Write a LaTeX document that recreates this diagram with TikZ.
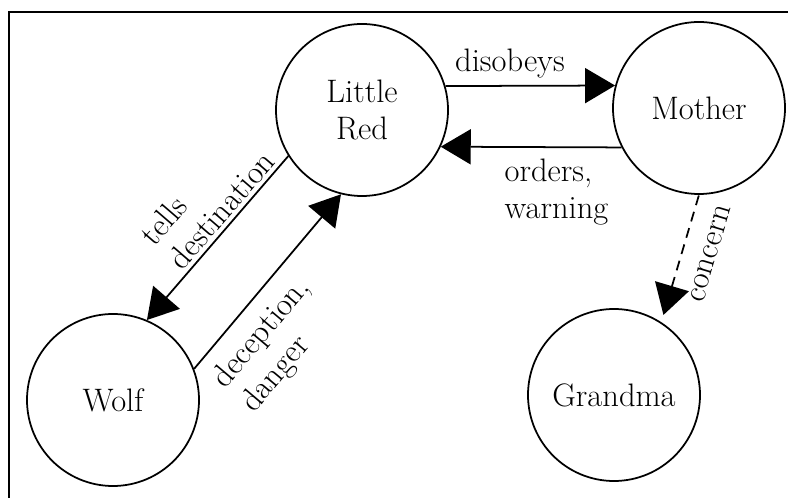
\documentclass[tikz,border=0pt]{standalone}
\usetikzlibrary{arrows.meta}
\begin{document}
\begin{tikzpicture}[
        >={Triangle[length=0.6cm, width=0.7cm]},
        person/.style = {draw, circle, line width=1pt, minimum size=3.44cm, inner sep=0pt, align=center, font=\fontsize{18.5}{21}\selectfont},
        link/.style = {line width=1pt},
        lbl/.style = {font=\fontsize{18.5}{21}\selectfont, align=left}
    ]
        \useasboundingbox (0, 0) rectangle (15.76, 9.96);
        \draw [line width=1.2pt] (0.18, 0) -- (0.18, 9.72) -- (15.76, 9.72);
        \node [person] (red) at (7.24, 7.76) {Little\\Red};
        \node [person] (mother) at (13.98, 7.80) {Mother};
        \node [person] (wolf) at (2.26, 1.96) {Wolf};
        \node [person] (grandma) at (12.28, 2.06) {Grandma};
        \draw [link, ->] (red.16) -- node [lbl, above, pos=0.38, inner sep=4pt] {disobeys} (mother.165);
        \draw [link, ->] (mother.207) -- node [lbl, below, pos=0.36, inner sep=6pt] {orders,\\warning} (red.335);
        \draw [link, <-] (wolf.67) -- node [lbl, sloped, above, pos=0.61, inner sep=2pt] {tells\\destination} (red.212);
        \draw [link, ->] (wolf.21) -- node [lbl, sloped, below, pos=0.31, inner sep=8pt] {deception,\\danger} (red.256);
        \draw [link, <-, dash pattern=on 0.2cm off 0.14cm, shorten <=0.15cm] (grandma.57) -- node [lbl, sloped, below, pos=0.6, inner sep=11pt] {concern} (mother.south);
    \end{tikzpicture}
\end{document}
